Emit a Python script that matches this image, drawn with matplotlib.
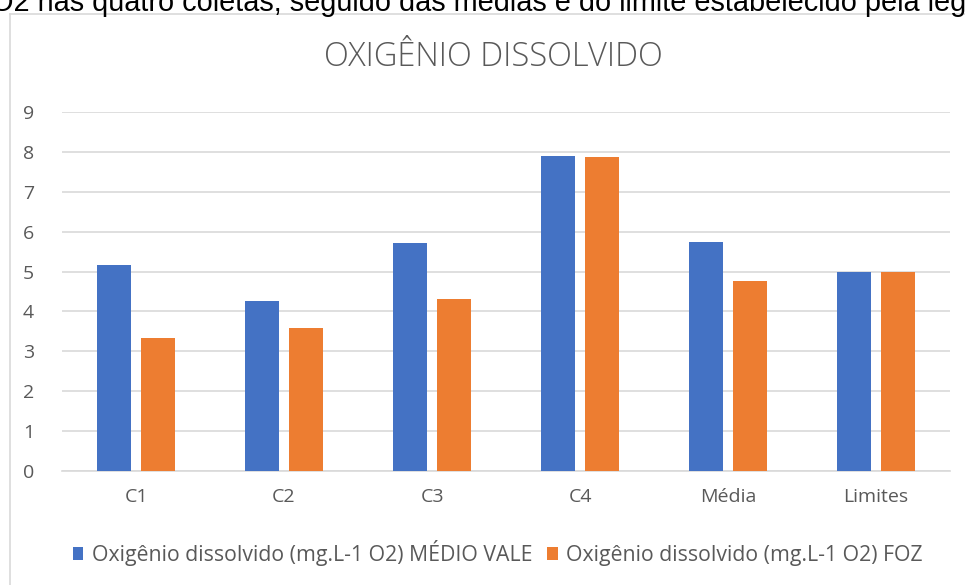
import numpy as np
import matplotlib.pyplot as plt
from matplotlib.lines import Line2D

# Data
categorias = ['C1', 'C2', 'C3', 'C4', 'Média', 'Limites']
medio_vale = [5.16, 4.25, 5.72, 7.89, 5.74, 5.0]
foz = [3.33, 3.58, 4.31, 7.86, 4.76, 5.0]
rotulos_series = ['Oxigênio dissolvido (mg.L-1 O2) MÉDIO VALE',
                  'Oxigênio dissolvido (mg.L-1 O2) FOZ']
titulo = 'OXIGÊNIO DISSOLVIDO'
texto_doc = 'O2 nas quatro coletas, seguido das médias e do limite estabelecido pela legislação'

AZUL = '#4472c4'
LARANJA = '#ed7d31'
CINZA = '#595959'
GRADE = '#d9d9d9'

plt.rcParams['font.family'] = ['Open Sans', 'DejaVu Sans']

W, H = 965, 585
fig = plt.figure(figsize=(W / 100, H / 100), dpi=100)

# Chart area border (cut off on the right and bottom in the screenshot)
fig.add_artist(Line2D([10 / W, 1], [1 - 14 / H, 1 - 14 / H], color=GRADE, lw=1.2))
fig.add_artist(Line2D([10 / W, 10 / W], [0, 1 - 14 / H], color=GRADE, lw=1.2))

# Document text above the chart (partly cut off)
fig.text(-9 / W, 1 - 11 / H, texto_doc, fontsize=20.8, family='Liberation Sans',
         color='black', va='baseline', ha='left')

ax = fig.add_axes([62 / W, 1 - 471 / H, (950 - 62) / W, (471 - 112) / H])

x = np.arange(len(categorias))
largura = 0.23
passo = 0.146
ax.bar(x - passo, medio_vale, largura, color=AZUL, label=rotulos_series[0], zorder=3)
ax.bar(x + passo, foz, largura, color=LARANJA, label=rotulos_series[1], zorder=3)

ax.set_xlim(-0.5, len(categorias) - 0.5)
ax.set_ylim(0, 9)
ax.set_yticks(range(0, 10))
ax.set_xticks(x)
ax.set_xticklabels(categorias)
ax.grid(axis='y', color=GRADE, lw=1.2, zorder=0)
for s in ['top', 'right', 'left']:
    ax.spines[s].set_visible(False)
ax.spines['bottom'].set_color(GRADE)
ax.spines['bottom'].set_linewidth(1.2)
ax.tick_params(axis='both', length=0, labelsize=14, labelcolor=CINZA)
ax.tick_params(axis='y', pad=20)
ax.tick_params(axis='x', pad=12)

fig.text(493 / W, 1 - 57 / H, titulo, fontsize=23.5, color=CINZA, ha='center',
         va='center', fontweight='light')

leg = fig.legend(loc='center', bbox_to_anchor=(498 / W, 1 - 553 / H), ncol=2,
                 frameon=False, fontsize=15.3, labelcolor=CINZA, handlelength=0.5,
                 handleheight=0.5, handletextpad=0.4, columnspacing=0.7)

fig.savefig('out.png', dpi=100)
